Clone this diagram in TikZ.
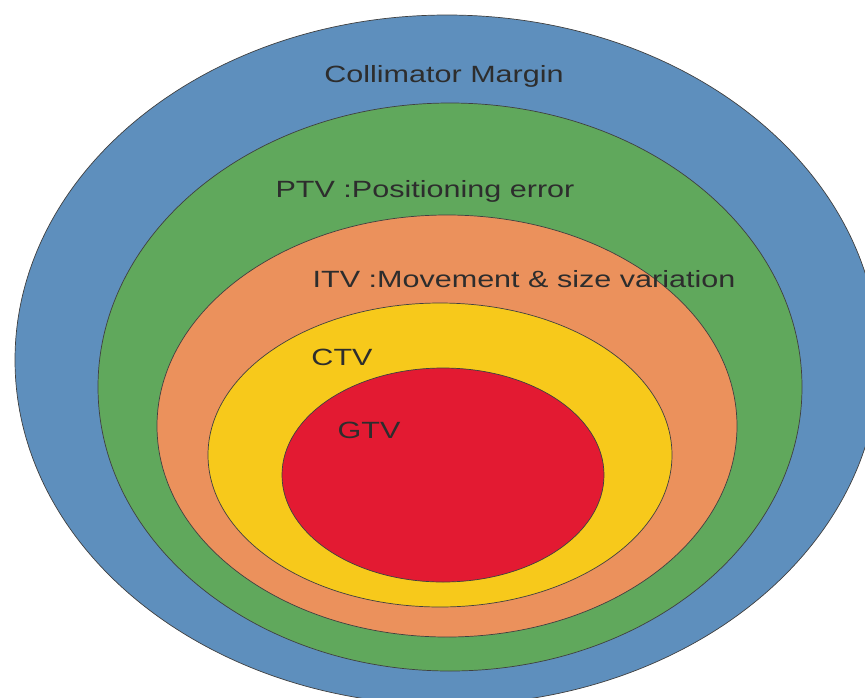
\documentclass[tikz,border=0pt]{standalone}
\usepackage{fontspec}
\setmainfont{Liberation Sans}
\usepackage{tikz}

\definecolor{margenazul}{RGB}{94,143,189}
\definecolor{ptvverde}{RGB}{96,168,92}
\definecolor{itvnaranja}{RGB}{235,145,92}
\definecolor{ctvamarillo}{RGB}{247,201,27}
\definecolor{gtvrojo}{RGB}{227,26,50}
\definecolor{textogris}{RGB}{45,45,45}

\begin{document}
\begin{tikzpicture}[x=1pt, y=-1pt]

% Set the overall frame of the picture
\useasboundingbox (0,0) rectangle (865,697);
\clip (0,0) rectangle (865,697);

% Define styles for volumes and labels
\tikzstyle{volumen} = [draw=black!75, line width=0.7pt]
\tikzstyle{etiqueta} = [anchor=base, inner sep=0pt, xscale=1.3, text=textogris,
    font=\fontsize{23.5}{28}\selectfont]

%Volumenes anidados, del mayor al menor
\draw[volumen, fill=margenazul] (447,360) ellipse [x radius=432, y radius=345];
\draw[volumen, fill=ptvverde] (450,387) ellipse [x radius=352, y radius=284];
\draw[volumen, fill=itvnaranja] (447,426) ellipse [x radius=290, y radius=211];
\draw[volumen, fill=ctvamarillo] (440,455) ellipse [x radius=232, y radius=152];
\draw[volumen, fill=gtvrojo] (443,475) ellipse [x radius=161, y radius=107];

\node[etiqueta] (margen) at (444,82) {Collimator Margin};
\node[etiqueta] (ptv) at (425,197) {PTV :Positioning error};
\node[etiqueta] (itv) at (524,287) {ITV :Movement \& size variation};
\node[etiqueta] (ctv) at (342,365) {CTV};
\node[etiqueta] (gtv) at (369,438) {GTV};

\end{tikzpicture}
\end{document}
